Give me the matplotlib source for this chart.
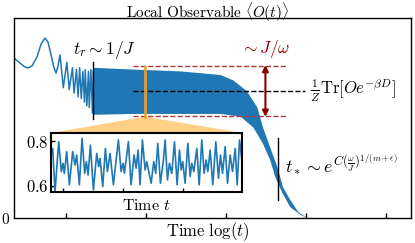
import numpy as np
import matplotlib
matplotlib.use("Agg")
import matplotlib.pyplot as plt
from matplotlib.patches import Polygon

plt.rcParams['mathtext.fontset'] = 'cm'
plt.rcParams['font.family'] = 'serif'
plt.rcParams['font.serif'] = ['cmr10', 'DejaVu Serif']
plt.rcParams['axes.formatter.use_mathtext'] = True

# early transient, log(t) vs <O>
early_x = [0.35, 0.425, 0.488, 0.525, 0.575, 0.638, 0.688, 0.738, 0.775, 0.813, 0.85,
           0.875, 0.90, 0.925, 0.966, 1.01, 1.04, 1.08, 1.10, 1.13, 1.15,
           1.17, 1.19, 1.21, 1.23, 1.24, 1.26, 1.28, 1.29, 1.31, 1.33, 1.34]
early_y = [0.884, 0.856, 0.834, 0.829, 0.840, 0.890, 0.961, 0.994, 0.972, 0.901, 0.829,
           0.801, 0.840, 0.901, 0.72, 0.86, 0.71, 0.83, 0.69, 0.82, 0.67,
           0.83, 0.66, 0.81, 0.64, 0.82, 0.62, 0.81, 0.61, 0.82, 0.58, 0.81]

# prethermal plateau band (upper / lower envelope of the fast oscillation)
upper_x = [1.34, 1.84, 2.43, 2.93, 3.09, 3.26, 3.39, 3.46, 3.55, 3.64, 3.71, 3.80, 3.90, 3.99]
upper_y = [0.83, 0.82, 0.81, 0.79, 0.76, 0.70, 0.61, 0.50, 0.39, 0.28, 0.17, 0.10, 0.033, 0.006]
lower_x = [1.34, 1.84, 2.43, 2.93, 3.18, 3.34, 3.46, 3.55, 3.61, 3.70, 3.80, 3.93, 4.01]
lower_y = [0.57, 0.575, 0.575, 0.575, 0.56, 0.50, 0.41, 0.32, 0.23, 0.14, 0.06, 0.017, 0.0]

# inset: zoom on plateau, time t vs <O>
inset_t = [8.0, 8.28, 8.67, 9.28, 9.72, 10.0, 10.22, 10.61, 11.06, 11.61, 12.0, 12.28,
           12.72, 13.17, 13.61, 13.89, 14.17, 14.56, 15.06, 15.61, 15.94, 16.17, 16.61,
           17.06, 17.39, 17.83, 18.39, 19.22, 19.67, 20.0, 20.22, 20.89, 21.33, 21.83,
           22.17, 22.5, 22.83, 23.22, 23.67, 23.94, 24.67, 25.11, 25.44, 25.78, 26.22,
           26.72, 27.0, 27.39, 27.72, 28.11, 28.56, 29.0, 29.39, 29.67, 29.94, 30.33,
           30.78, 31.17, 31.44, 31.78, 32.28, 32.67, 33.11, 33.5, 33.83, 34.11, 34.5,
           34.94, 35.44, 35.89, 36.22, 36.56, 37.0, 37.39, 37.83, 38.22, 38.67, 39.0,
           39.39, 39.78]
inset_y = [0.738, 0.767, 0.575, 0.797, 0.664, 0.701, 0.656, 0.753, 0.605, 0.753, 0.693,
           0.738, 0.605, 0.812, 0.656, 0.708, 0.649, 0.782, 0.582, 0.745, 0.686, 0.723,
           0.597, 0.767, 0.664, 0.745, 0.605, 0.805, 0.664, 0.701, 0.656, 0.797, 0.605,
           0.738, 0.679, 0.760, 0.605, 0.805, 0.671, 0.708, 0.612, 0.708, 0.656, 0.790,
           0.612, 0.716, 0.805, 0.627, 0.701, 0.656, 0.797, 0.605, 0.760, 0.671, 0.708,
           0.612, 0.790, 0.642, 0.701, 0.664, 0.767, 0.605, 0.805, 0.656, 0.716, 0.664,
           0.760, 0.605, 0.797, 0.634, 0.738, 0.656, 0.775, 0.612, 0.738, 0.664, 0.767,
           0.605, 0.805, 0.716]

blue = '#1f77b4'
red = '#b03a3a'
darkred = '#8b0000'

fig = plt.figure(figsize=(4.15, 2.43), dpi=100)
ax = fig.add_axes([0.0337, 0.1029, 0.957, 0.823])

ax.plot(early_x, early_y, color=blue, lw=1.1)
ax.fill(upper_x + lower_x[::-1], upper_y + lower_y[::-1], color=blue, lw=0)

# reference levels
ax.plot([1.84, 3.76], [0.840, 0.840], ls='--', color=red, lw=1.0)
ax.plot([1.84, 3.76], [0.564, 0.564], ls='--', color=red, lw=1.0)
ax.plot([1.84, 3.99], [0.702, 0.702], ls='--', color='black', lw=1.0)
ax.annotate('', xy=(3.49, 0.845), xytext=(3.49, 0.559),
            arrowprops=dict(arrowstyle='<|-|>', color=darkred, lw=1.5,
                            mutation_scale=9, shrinkA=0, shrinkB=0))
ax.text(3.49, 0.935, r'$\sim J/\omega$', color=darkred, ha='center', va='center', fontsize=12.5)
ax.text(4.05, 0.702, r'$\frac{1}{Z}\mathrm{Tr}[Oe^{-\beta D}]$', ha='left', va='center', fontsize=12)

# time scales
ax.plot([1.338, 1.338], [0.547, 0.862], color='black', lw=1.0)
ax.text(1.09, 0.93, r'$t_r \sim 1/J$', ha='left', va='center', fontsize=12.5)
ax.plot([3.65, 3.65], [0.099, 0.442], color='black', lw=1.0)
ax.text(3.74, 0.30, r'$t_* \sim e^{C(\frac{\omega}{J})^{1/(m+\epsilon)}}$',
        ha='left', va='center', fontsize=13)

# zoom marker
ax.plot([1.988, 1.988], [0.558, 0.834], color='#f0a030', lw=2.2, alpha=0.85)
ax.add_patch(Polygon([[1.9625, 0.558], [2.0125, 0.558], [3.2, 0.47], [0.8125, 0.47]],
                     closed=True, color='#ffc870', alpha=0.85, lw=0))

ax.set_xlim(0.35, 5.31)
ax.set_ylim(0, 1.105)
ax.set_xticks([1, 2, 3, 4, 5])
ax.set_xticklabels([])
ax.set_yticks([0])
ax.set_yticklabels(['$0$'])
ax.tick_params(axis='x', direction='in', length=3.5, width=1.0)
ax.tick_params(axis='y', length=0, pad=3, labelsize=11)
for s in ax.spines.values():
    s.set_linewidth(1.0)

fig.text(0.5, 0.949, r'$\mathrm{Local\ Observable}\ \langle O(t)\rangle$',
         ha='center', va='center', fontsize=11)
fig.text(0.5, 0.045, r'$\mathrm{Time}\ \log(t)$', ha='center', va='center', fontsize=12)

axin = fig.add_axes([0.1229, 0.2099, 0.4602, 0.2428])
axin.plot(inset_t, inset_y, color=blue, lw=1.2)
axin.set_xlim(8, 39.8)
axin.set_ylim(0.573, 0.836)
axin.set_xticks([10, 20, 30])
axin.set_xticklabels([])
axin.set_yticks([0.6, 0.8])
axin.set_yticklabels(['$0.6$', '$0.8$'])
axin.tick_params(axis='x', direction='in', length=3, width=1.0)
axin.tick_params(axis='y', direction='in', length=3, width=1.0, labelsize=12, pad=2)
for s in axin.spines.values():
    s.set_linewidth(1.5)
axin.set_xlabel(r'$\mathrm{Time}\ t$', fontsize=11.5, labelpad=1)

fig.savefig('out.png', dpi=100)
